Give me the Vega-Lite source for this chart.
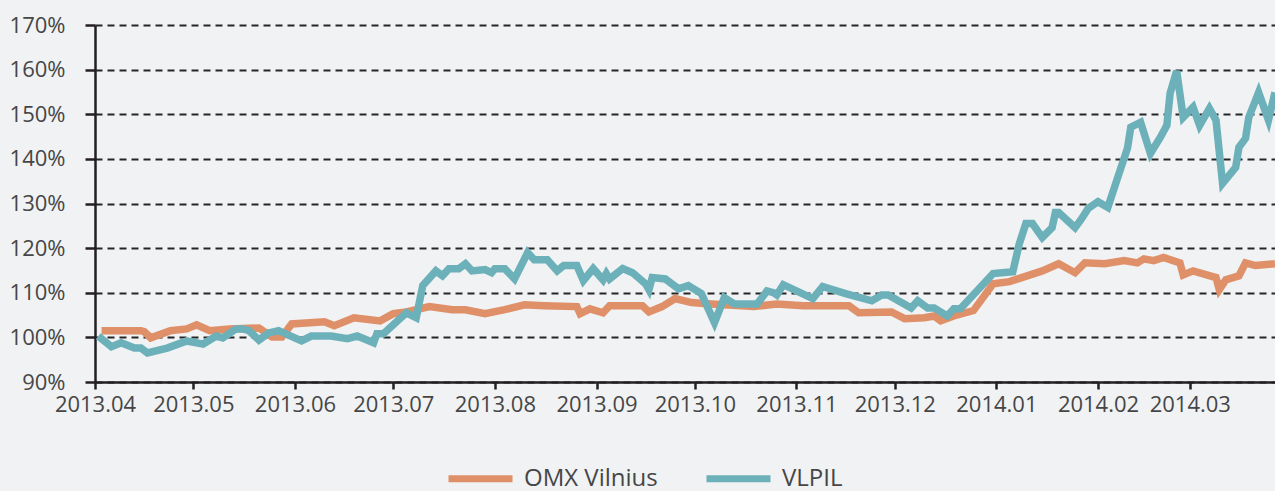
{
  "$schema": "https://vega.github.io/schema/vega-lite/v6.json",
  "width": 1180,
  "height": 357,
  "autosize": "none",
  "padding": {"left": 95, "top": 25, "right": 0, "bottom": 109},
  "background": "#f1f2f4",
  "config": {
    "view": {"stroke": null},
    "font": "Open Sans",
    "axis": {"labelFont": "Open Sans", "labelColor": "#464646", "labelFontSize": 22},
    "legend": {"labelFont": "Open Sans"}
  },
  "data": {
    "values": [
      {"d": "2013-04-03T00:00", "s": "OMX Vilnius", "v": 101.5},
      {"d": "2013-04-15T00:00", "s": "OMX Vilnius", "v": 101.5},
      {"d": "2013-04-16T00:00", "s": "OMX Vilnius", "v": 101.3},
      {"d": "2013-04-18T00:00", "s": "OMX Vilnius", "v": 99.9},
      {"d": "2013-04-24T00:00", "s": "OMX Vilnius", "v": 101.5},
      {"d": "2013-04-29T00:00", "s": "OMX Vilnius", "v": 101.9},
      {"d": "2013-05-02T00:00", "s": "OMX Vilnius", "v": 102.8},
      {"d": "2013-05-06T00:00", "s": "OMX Vilnius", "v": 101.5},
      {"d": "2013-05-12T00:00", "s": "OMX Vilnius", "v": 101.9},
      {"d": "2013-05-21T00:00", "s": "OMX Vilnius", "v": 102.1},
      {"d": "2013-05-25T00:00", "s": "OMX Vilnius", "v": 100.1},
      {"d": "2013-05-28T00:00", "s": "OMX Vilnius", "v": 100.1},
      {"d": "2013-05-31T00:00", "s": "OMX Vilnius", "v": 103.0},
      {"d": "2013-06-10T00:00", "s": "OMX Vilnius", "v": 103.5},
      {"d": "2013-06-13T00:00", "s": "OMX Vilnius", "v": 102.6},
      {"d": "2013-06-19T00:00", "s": "OMX Vilnius", "v": 104.4},
      {"d": "2013-06-27T00:00", "s": "OMX Vilnius", "v": 103.7},
      {"d": "2013-07-01T00:00", "s": "OMX Vilnius", "v": 105.3},
      {"d": "2013-07-05T00:00", "s": "OMX Vilnius", "v": 105.7},
      {"d": "2013-07-12T00:00", "s": "OMX Vilnius", "v": 106.9},
      {"d": "2013-07-19T00:00", "s": "OMX Vilnius", "v": 106.2},
      {"d": "2013-07-23T00:00", "s": "OMX Vilnius", "v": 106.2},
      {"d": "2013-07-29T00:00", "s": "OMX Vilnius", "v": 105.3},
      {"d": "2013-08-04T00:00", "s": "OMX Vilnius", "v": 106.2},
      {"d": "2013-08-10T00:00", "s": "OMX Vilnius", "v": 107.3},
      {"d": "2013-08-16T00:00", "s": "OMX Vilnius", "v": 107.1},
      {"d": "2013-08-26T00:00", "s": "OMX Vilnius", "v": 106.9},
      {"d": "2013-08-27T00:00", "s": "OMX Vilnius", "v": 105.3},
      {"d": "2013-08-30T00:00", "s": "OMX Vilnius", "v": 106.4},
      {"d": "2013-09-03T00:00", "s": "OMX Vilnius", "v": 105.5},
      {"d": "2013-09-05T00:00", "s": "OMX Vilnius", "v": 107.1},
      {"d": "2013-09-15T00:00", "s": "OMX Vilnius", "v": 107.1},
      {"d": "2013-09-17T00:00", "s": "OMX Vilnius", "v": 105.7},
      {"d": "2013-09-21T00:00", "s": "OMX Vilnius", "v": 106.9},
      {"d": "2013-09-25T00:00", "s": "OMX Vilnius", "v": 108.7},
      {"d": "2013-09-30T00:00", "s": "OMX Vilnius", "v": 107.8},
      {"d": "2013-10-06T00:00", "s": "OMX Vilnius", "v": 107.5},
      {"d": "2013-10-19T00:00", "s": "OMX Vilnius", "v": 106.9},
      {"d": "2013-10-26T00:00", "s": "OMX Vilnius", "v": 107.5},
      {"d": "2013-11-03T00:00", "s": "OMX Vilnius", "v": 107.1},
      {"d": "2013-11-17T00:00", "s": "OMX Vilnius", "v": 107.1},
      {"d": "2013-11-20T00:00", "s": "OMX Vilnius", "v": 105.5},
      {"d": "2013-11-30T00:00", "s": "OMX Vilnius", "v": 105.7},
      {"d": "2013-12-04T00:00", "s": "OMX Vilnius", "v": 104.2},
      {"d": "2013-12-10T00:00", "s": "OMX Vilnius", "v": 104.4},
      {"d": "2013-12-13T00:00", "s": "OMX Vilnius", "v": 104.8},
      {"d": "2013-12-15T00:00", "s": "OMX Vilnius", "v": 103.7},
      {"d": "2013-12-19T00:00", "s": "OMX Vilnius", "v": 104.8},
      {"d": "2013-12-25T00:00", "s": "OMX Vilnius", "v": 106.0},
      {"d": "2013-12-31T00:00", "s": "OMX Vilnius", "v": 112.0},
      {"d": "2014-01-05T00:00", "s": "OMX Vilnius", "v": 112.5},
      {"d": "2014-01-15T00:00", "s": "OMX Vilnius", "v": 114.9},
      {"d": "2014-01-20T00:00", "s": "OMX Vilnius", "v": 116.5},
      {"d": "2014-01-25T00:00", "s": "OMX Vilnius", "v": 114.5},
      {"d": "2014-01-28T00:00", "s": "OMX Vilnius", "v": 116.7},
      {"d": "2014-02-03T00:00", "s": "OMX Vilnius", "v": 116.5},
      {"d": "2014-02-09T00:00", "s": "OMX Vilnius", "v": 117.2},
      {"d": "2014-02-13T00:00", "s": "OMX Vilnius", "v": 116.7},
      {"d": "2014-02-15T00:00", "s": "OMX Vilnius", "v": 117.6},
      {"d": "2014-02-18T00:00", "s": "OMX Vilnius", "v": 117.2},
      {"d": "2014-02-21T00:00", "s": "OMX Vilnius", "v": 117.9},
      {"d": "2014-02-26T00:00", "s": "OMX Vilnius", "v": 116.7},
      {"d": "2014-02-27T00:00", "s": "OMX Vilnius", "v": 114.0},
      {"d": "2014-03-02T00:00", "s": "OMX Vilnius", "v": 114.9},
      {"d": "2014-03-09T00:00", "s": "OMX Vilnius", "v": 113.4},
      {"d": "2014-03-10T00:00", "s": "OMX Vilnius", "v": 110.7},
      {"d": "2014-03-12T00:00", "s": "OMX Vilnius", "v": 112.9},
      {"d": "2014-03-16T00:00", "s": "OMX Vilnius", "v": 113.8},
      {"d": "2014-03-18T00:00", "s": "OMX Vilnius", "v": 116.7},
      {"d": "2014-03-21T00:00", "s": "OMX Vilnius", "v": 116.1},
      {"d": "2014-03-27T00:00", "s": "OMX Vilnius", "v": 116.5},

      {"d": "2013-04-02T00:00", "s": "VLPIL", "v": 100.3},
      {"d": "2013-04-06T00:00", "s": "VLPIL", "v": 97.9},
      {"d": "2013-04-09T00:00", "s": "VLPIL", "v": 98.8},
      {"d": "2013-04-13T00:00", "s": "VLPIL", "v": 97.6},
      {"d": "2013-04-15T00:00", "s": "VLPIL", "v": 97.6},
      {"d": "2013-04-17T00:00", "s": "VLPIL", "v": 96.5},
      {"d": "2013-04-23T00:00", "s": "VLPIL", "v": 97.6},
      {"d": "2013-04-29T00:00", "s": "VLPIL", "v": 99.2},
      {"d": "2013-05-04T00:00", "s": "VLPIL", "v": 98.5},
      {"d": "2013-05-08T00:00", "s": "VLPIL", "v": 100.3},
      {"d": "2013-05-10T00:00", "s": "VLPIL", "v": 99.9},
      {"d": "2013-05-14T00:00", "s": "VLPIL", "v": 101.9},
      {"d": "2013-05-16T00:00", "s": "VLPIL", "v": 101.9},
      {"d": "2013-05-18T00:00", "s": "VLPIL", "v": 101.5},
      {"d": "2013-05-21T00:00", "s": "VLPIL", "v": 99.4},
      {"d": "2013-05-24T00:00", "s": "VLPIL", "v": 101.0},
      {"d": "2013-05-27T00:00", "s": "VLPIL", "v": 101.5},
      {"d": "2013-06-03T00:00", "s": "VLPIL", "v": 99.2},
      {"d": "2013-06-06T00:00", "s": "VLPIL", "v": 100.3},
      {"d": "2013-06-12T00:00", "s": "VLPIL", "v": 100.3},
      {"d": "2013-06-17T00:00", "s": "VLPIL", "v": 99.7},
      {"d": "2013-06-20T00:00", "s": "VLPIL", "v": 100.3},
      {"d": "2013-06-25T00:00", "s": "VLPIL", "v": 98.8},
      {"d": "2013-06-26T00:00", "s": "VLPIL", "v": 100.8},
      {"d": "2013-06-28T00:00", "s": "VLPIL", "v": 100.8},
      {"d": "2013-07-05T00:00", "s": "VLPIL", "v": 105.5},
      {"d": "2013-07-08T00:00", "s": "VLPIL", "v": 104.4},
      {"d": "2013-07-10T00:00", "s": "VLPIL", "v": 111.6},
      {"d": "2013-07-14T00:00", "s": "VLPIL", "v": 114.9},
      {"d": "2013-07-16T00:00", "s": "VLPIL", "v": 113.8},
      {"d": "2013-07-18T00:00", "s": "VLPIL", "v": 115.4},
      {"d": "2013-07-21T00:00", "s": "VLPIL", "v": 115.4},
      {"d": "2013-07-23T00:00", "s": "VLPIL", "v": 116.5},
      {"d": "2013-07-25T00:00", "s": "VLPIL", "v": 114.9},
      {"d": "2013-07-29T00:00", "s": "VLPIL", "v": 115.2},
      {"d": "2013-07-31T00:00", "s": "VLPIL", "v": 114.5},
      {"d": "2013-08-01T00:00", "s": "VLPIL", "v": 115.4},
      {"d": "2013-08-04T00:00", "s": "VLPIL", "v": 115.4},
      {"d": "2013-08-07T00:00", "s": "VLPIL", "v": 113.1},
      {"d": "2013-08-11T00:00", "s": "VLPIL", "v": 119.0},
      {"d": "2013-08-13T00:00", "s": "VLPIL", "v": 117.4},
      {"d": "2013-08-17T00:00", "s": "VLPIL", "v": 117.4},
      {"d": "2013-08-20T00:00", "s": "VLPIL", "v": 114.9},
      {"d": "2013-08-22T00:00", "s": "VLPIL", "v": 116.1},
      {"d": "2013-08-26T00:00", "s": "VLPIL", "v": 116.1},
      {"d": "2013-08-28T00:00", "s": "VLPIL", "v": 112.7},
      {"d": "2013-08-31T00:00", "s": "VLPIL", "v": 115.4},
      {"d": "2013-09-03T00:00", "s": "VLPIL", "v": 112.9},
      {"d": "2013-09-04T00:00", "s": "VLPIL", "v": 114.3},
      {"d": "2013-09-05T00:00", "s": "VLPIL", "v": 113.1},
      {"d": "2013-09-09T00:00", "s": "VLPIL", "v": 115.4},
      {"d": "2013-09-12T00:00", "s": "VLPIL", "v": 114.5},
      {"d": "2013-09-16T00:00", "s": "VLPIL", "v": 112.0},
      {"d": "2013-09-17T00:00", "s": "VLPIL", "v": 110.7},
      {"d": "2013-09-18T00:00", "s": "VLPIL", "v": 113.4},
      {"d": "2013-09-22T00:00", "s": "VLPIL", "v": 113.1},
      {"d": "2013-09-26T00:00", "s": "VLPIL", "v": 110.9},
      {"d": "2013-09-29T00:00", "s": "VLPIL", "v": 111.6},
      {"d": "2013-10-03T00:00", "s": "VLPIL", "v": 109.8},
      {"d": "2013-10-07T00:00", "s": "VLPIL", "v": 103.3},
      {"d": "2013-10-10T00:00", "s": "VLPIL", "v": 108.9},
      {"d": "2013-10-13T00:00", "s": "VLPIL", "v": 107.5},
      {"d": "2013-10-20T00:00", "s": "VLPIL", "v": 107.5},
      {"d": "2013-10-23T00:00", "s": "VLPIL", "v": 110.4},
      {"d": "2013-10-25T00:00", "s": "VLPIL", "v": 110.0},
      {"d": "2013-10-26T00:00", "s": "VLPIL", "v": 109.5},
      {"d": "2013-10-28T00:00", "s": "VLPIL", "v": 111.8},
      {"d": "2013-11-06T00:00", "s": "VLPIL", "v": 108.7},
      {"d": "2013-11-09T00:00", "s": "VLPIL", "v": 111.4},
      {"d": "2013-11-16T00:00", "s": "VLPIL", "v": 109.8},
      {"d": "2013-11-24T00:00", "s": "VLPIL", "v": 108.2},
      {"d": "2013-11-27T00:00", "s": "VLPIL", "v": 109.5},
      {"d": "2013-11-29T00:00", "s": "VLPIL", "v": 109.5},
      {"d": "2013-12-06T00:00", "s": "VLPIL", "v": 106.6},
      {"d": "2013-12-08T00:00", "s": "VLPIL", "v": 108.2},
      {"d": "2013-12-11T00:00", "s": "VLPIL", "v": 106.6},
      {"d": "2013-12-13T00:00", "s": "VLPIL", "v": 106.6},
      {"d": "2013-12-17T00:00", "s": "VLPIL", "v": 104.8},
      {"d": "2013-12-19T00:00", "s": "VLPIL", "v": 106.4},
      {"d": "2013-12-21T00:00", "s": "VLPIL", "v": 106.4},
      {"d": "2013-12-31T00:00", "s": "VLPIL", "v": 114.3},
      {"d": "2014-01-06T00:00", "s": "VLPIL", "v": 114.7},
      {"d": "2014-01-08T00:00", "s": "VLPIL", "v": 121.0},
      {"d": "2014-01-10T00:00", "s": "VLPIL", "v": 125.5},
      {"d": "2014-01-12T00:00", "s": "VLPIL", "v": 125.5},
      {"d": "2014-01-15T00:00", "s": "VLPIL", "v": 122.4},
      {"d": "2014-01-18T00:00", "s": "VLPIL", "v": 124.6},
      {"d": "2014-01-19T00:00", "s": "VLPIL", "v": 128.0},
      {"d": "2014-01-20T00:00", "s": "VLPIL", "v": 128.0},
      {"d": "2014-01-25T00:00", "s": "VLPIL", "v": 124.6},
      {"d": "2014-01-27T00:00", "s": "VLPIL", "v": 126.6},
      {"d": "2014-01-29T00:00", "s": "VLPIL", "v": 128.9},
      {"d": "2014-02-01T00:00", "s": "VLPIL", "v": 130.4},
      {"d": "2014-02-04T00:00", "s": "VLPIL", "v": 129.1},
      {"d": "2014-02-07T00:00", "s": "VLPIL", "v": 135.8},
      {"d": "2014-02-10T00:00", "s": "VLPIL", "v": 142.4},
      {"d": "2014-02-11T00:00", "s": "VLPIL", "v": 147.1},
      {"d": "2014-02-14T00:00", "s": "VLPIL", "v": 148.2},
      {"d": "2014-02-17T00:00", "s": "VLPIL", "v": 141.2},
      {"d": "2014-02-20T00:00", "s": "VLPIL", "v": 144.8},
      {"d": "2014-02-22T00:00", "s": "VLPIL", "v": 147.5},
      {"d": "2014-02-23T00:00", "s": "VLPIL", "v": 154.7},
      {"d": "2014-02-25T00:00", "s": "VLPIL", "v": 159.7},
      {"d": "2014-02-27T00:00", "s": "VLPIL", "v": 149.3},
      {"d": "2014-03-02T00:00", "s": "VLPIL", "v": 151.6},
      {"d": "2014-03-04T00:00", "s": "VLPIL", "v": 147.5},
      {"d": "2014-03-07T00:00", "s": "VLPIL", "v": 151.3},
      {"d": "2014-03-09T00:00", "s": "VLPIL", "v": 148.7},
      {"d": "2014-03-11T00:00", "s": "VLPIL", "v": 134.5},
      {"d": "2014-03-15T00:00", "s": "VLPIL", "v": 138.1},
      {"d": "2014-03-16T00:00", "s": "VLPIL", "v": 142.6},
      {"d": "2014-03-18T00:00", "s": "VLPIL", "v": 144.6},
      {"d": "2014-03-19T00:00", "s": "VLPIL", "v": 149.3},
      {"d": "2014-03-22T00:00", "s": "VLPIL", "v": 154.9},
      {"d": "2014-03-25T00:00", "s": "VLPIL", "v": 148.7},
      {"d": "2014-03-27T00:00", "s": "VLPIL", "v": 154.9}
    ]
  },
  "mark": {"type": "line", "strokeWidth": 7.5, "clip": false},
  "encoding": {
    "x": {
      "field": "d",
      "type": "temporal",
      "title": null,
      "scale": {
        "domain": [
          {"year": 2013, "month": 4, "date": 1},
          {"year": 2014, "month": 3, "date": 27}
        ]
      },
      "axis": {
        "format": "%Y.%m",
        "tickCount": {"interval": "month", "step": 1},
        "grid": false,
        "domainColor": "#231f20",
        "domainWidth": 2.5,
        "tickColor": "#231f20",
        "tickWidth": 2.5,
        "tickSize": 7,
        "labelPadding": 5,
        "labelFlush": false,
        "labelOverlap": false
      }
    },
    "y": {
      "field": "v",
      "type": "quantitative",
      "title": null,
      "scale": {"domain": [90, 170], "nice": false, "zero": false},
      "axis": {
        "values": [90, 100, 110, 120, 130, 140, 150, 160, 170],
        "labelExpr": "datum.value + '%'",
        "grid": true,
        "gridColor": "#262626",
        "gridDash": [7, 5],
        "gridWidth": 1.8,
        "domainColor": "#231f20",
        "domainWidth": 2.5,
        "tickColor": "#231f20",
        "tickWidth": 2.5,
        "tickSize": 10,
        "labelPadding": 20
      }
    },
    "color": {
      "field": "s",
      "type": "nominal",
      "title": null,
      "scale": {"domain": ["OMX Vilnius", "VLPIL"], "range": ["#df9068", "#6cb0b9"]},
      "legend": {
        "orient": "none",
        "direction": "horizontal",
        "legendX": 350,
        "legendY": 418,
        "symbolType": "stroke",
        "symbolSize": 4096,
        "symbolStrokeWidth": 7,
        "labelFontSize": 24,
        "labelColor": "#464646",
        "labelOffset": 8,
        "columnPadding": 34,
        "padding": 0
      }
    }
  }
}
